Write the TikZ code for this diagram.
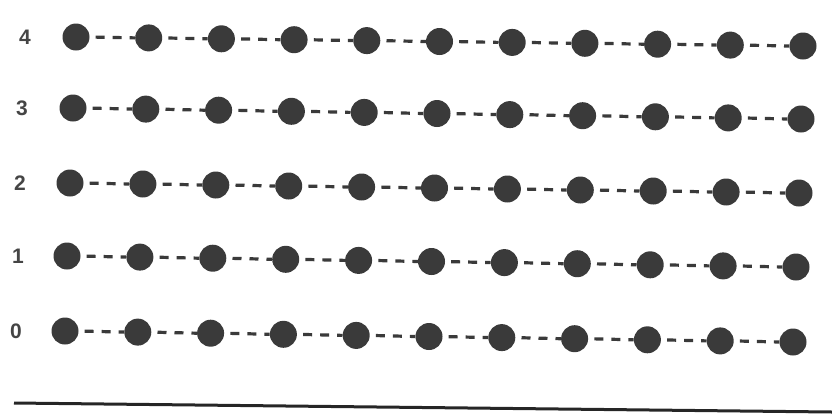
\documentclass[tikz,border=0pt]{standalone}
\usepackage{fontspec}
\setmainfont{Liberation Sans}
\definecolor{ink}{HTML}{3A3A3A}
\definecolor{lab}{HTML}{454545}
\tikzset{
  dot/.style={circle,fill=ink,inner sep=0pt,minimum size=27pt},
  link/.style={draw=ink,line width=3.2pt,dash pattern=on 9pt off 8pt,dash phase=-6pt},
  rowlabel/.style={text=lab,font=\fontsize{21}{21}\selectfont\bfseries,inner sep=0pt},
  baseline/.style={draw=black!85,line width=3pt}
}
\begin{document}
\begin{tikzpicture}[x=1pt,y=-1pt]
\useasboundingbox (0,0) rectangle (832,416);
% row: index / left x / left y / right x / right y / label x
\foreach \r/\lx/\ly/\rx/\ry/\tx in {4/76/37/803/46/25, 3/73/108/801/119/22, 2/70/183/799/193/20, 1/67/256/796/267/18, 0/65/331/793/342/16}{
  \node[rowlabel] (lab\r) at (\tx,\ly) {\r};
  \foreach \i in {0,...,10}{
    \pgfmathsetmacro{\px}{\lx+(\rx-\lx)*\i/10}
    \pgfmathsetmacro{\py}{\ly+(\ry-\ly)*\i/10}
    \node[dot] (d\r-\i) at (\px,\py) {};
  }
  \foreach \i [evaluate=\i as \j using int(\i+1)] in {0,...,9}{
    \path[link] (d\r-\i.east) -- (d\r-\j.west);
  }
}
\coordinate (bl) at (14,403);
\coordinate (br) at (832,412);
\draw[baseline] (bl) -- (br);
\end{tikzpicture}
\end{document}
